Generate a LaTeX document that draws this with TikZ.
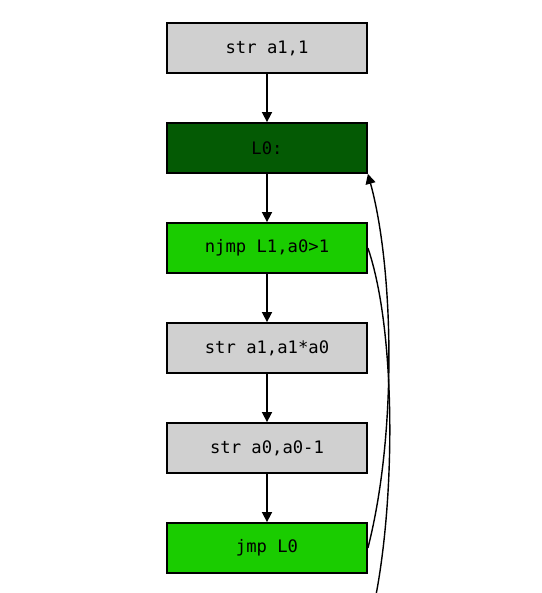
\documentclass[tikz,border=0pt]{standalone}
\usepackage{fontspec}
\setmonofont{DejaVu Sans Mono}
\usetikzlibrary{arrows.meta}
\definecolor{boxgray}{RGB}{208,208,208}
\definecolor{brightgreen}{RGB}{26,204,0}
\definecolor{darkgreen}{RGB}{4,90,4}
\tikzset{
  instr/.style={draw=black, line width=1.8pt, minimum width=200pt, minimum height=50pt,
    inner sep=0pt, font=\fontsize{17.2}{20}\selectfont\ttfamily, text=black},
  flow/.style={line width=1.6pt, -{Triangle[length=10pt,width=10pt]}},
  back/.style={line width=1.4pt},
}
\begin{document}
\begin{tikzpicture}[x=1pt,y=-1pt]
\useasboundingbox (0,0) rectangle (541,593);
\clip (0,0) rectangle (541,593);
\node[instr, fill=boxgray] (n1) at (267,48) {str a1,1};
\node[instr, fill=darkgreen] (n2) at (267,148) {L0:};
\node[instr, fill=brightgreen] (n3) at (267,248) {njmp L1,a0>1};
\node[instr, fill=boxgray] (n4) at (267,348) {str a1,a1*a0};
\node[instr, fill=boxgray] (n5) at (267,448) {str a0,a0-1};
\node[instr, fill=brightgreen] (n6) at (267,548) {jmp L0};
\coordinate (out) at (374,605);
\draw[flow] (n1) -- (n2);
\draw[flow] (n2) -- (n3);
\draw[flow] (n3) -- (n4);
\draw[flow] (n4) -- (n5);
\draw[flow] (n5) -- (n6);
\draw[back] (n3.east) .. controls (396,330) and (396,500) .. (out);
\draw[back, -{Triangle[length=10pt,width=10pt]}] (n6.east) .. controls (398,430) and (393,265) .. (n2.south east);
\end{tikzpicture}
\end{document}
